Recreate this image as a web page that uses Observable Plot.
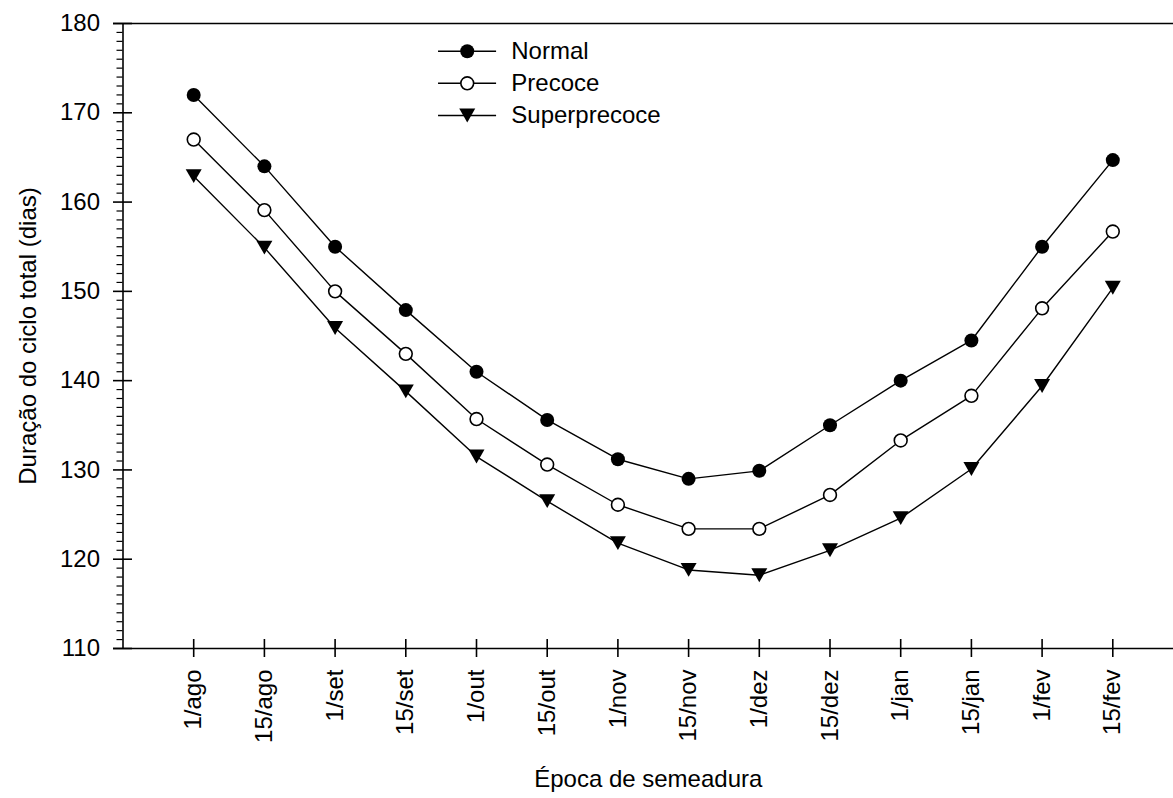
<!DOCTYPE html>
<html>
<head>
<meta charset="utf-8">
<script src="https://cdn.jsdelivr.net/npm/d3@7"></script>
<script src="https://cdn.jsdelivr.net/npm/@observablehq/plot@0.6"></script>
<style>
  html, body { margin: 0; padding: 0; background: white; overflow: hidden; }
  #chart svg { display: block; }
</style>
</head>
<body>
<div id="chart"></div>
<script>
// ---- Data ----
const categories = ["1/ago","15/ago","1/set","15/set","1/out","15/out","1/nov","15/nov","1/dez","15/dez","1/jan","15/jan","1/fev","15/fev"];
const seriesNames = ["Normal", "Precoce", "Superprecoce"];
const normal       = [172.0, 164.0, 155.0, 147.9, 141.0, 135.6, 131.2, 129.0, 129.9, 135.0, 140.0, 144.5, 155.0, 164.7];
const precoce      = [167.0, 159.1, 150.0, 143.0, 135.7, 130.6, 126.1, 123.4, 123.4, 127.2, 133.3, 138.3, 148.1, 156.7];
const superprecoce = [162.9, 154.9, 145.9, 138.8, 131.5, 126.5, 121.8, 118.8, 118.2, 121.0, 124.6, 130.1, 139.4, 150.4];
const yTicks = [110, 120, 130, 140, 150, 160, 170, 180];
const yTitle = "Duração do ciclo total (dias)";
const xTitle = "Época de semeadura";

// ---- Build table ----
const seriesValues = [normal, precoce, superprecoce];
const data = seriesNames.flatMap((s, k) => seriesValues[k].map((v, i) => ({series: s, x: i + 1, y: v})));
const xIdx = categories.map((c, i) => i + 1);
const yMinor = d3.range(110, 181, 1).filter(v => !yTicks.includes(v));

// legend rows (layout positions in data units)
const legendRows = seriesNames.map((name, k) => ({name, y: 176.9 - k * 3.6}));

const triDown = {
  draw(ctx, size) {
    const r = Math.sqrt(size / Math.PI);
    const h = r * Math.sqrt(3);
    ctx.moveTo(-r, -h / 2);
    ctx.lineTo(r, -h / 2);
    ctx.lineTo(0, h / 2);
    ctx.closePath();
  }
};

const W = 1173, H = 798;
const mL = 122.5, mT = 23, mB = 150;
const xMax = 15;
const pxX = (xMax) / (1183 - mL);      // data units per pixel (x)
const pxY = (180 - 110) / (H - mB - mT); // data units per pixel (y)

const lineW = 1.4;
const axisW = 1.6;
const font = "Liberation Sans, Arial, Helvetica, sans-serif";

const chart = Plot.plot({
  width: W,
  height: H,
  marginLeft: mL,
  marginTop: mT,
  marginBottom: mB,
  marginRight: 0,
  style: {fontFamily: font, fontSize: "24px", color: "black", background: "white", overflow: "hidden"},
  x: {domain: [0, xMax], range: [mL, 1183], axis: null},
  y: {domain: [110, 180], axis: null},
  marks: [
    // frame
    Plot.ruleY([180, 110], {x1: -9.5 * pxX, x2: xMax, stroke: "black", strokeWidth: axisW}),
    Plot.ruleX([0, xMax], {y1: 110, y2: 180, stroke: "black", strokeWidth: axisW}),
    // y ticks
    Plot.ruleY(yTicks, {x1: -9.5 * pxX, x2: 9.5 * pxX, stroke: "black", strokeWidth: axisW}),
    Plot.ruleY(yMinor, {x1: -6 * pxX, x2: 0, stroke: "black", strokeWidth: 1.2}),
    Plot.ruleY(yTicks, {x1: xMax - 9.5 * pxX, x2: xMax + 9.5 * pxX, stroke: "black", strokeWidth: axisW}),
    // x ticks
    Plot.ruleX(xIdx, {y1: 110 - 9 * pxY, y2: 110 + 9 * pxY, stroke: "black", strokeWidth: axisW}),
    // axes labels
    Plot.axisY({ticks: yTicks, tickSize: 0, tickPadding: 23, fontSize: 24, label: null, tickFormat: d => d}),
    Plot.axisX({ticks: xIdx, tickSize: 0, tickPadding: 21, tickRotate: -90, fontSize: 24, label: null, tickFormat: i => categories[i - 1]}),
    // titles
    Plot.text([yTitle], {frameAnchor: "left", dx: -95, rotate: -90, textAnchor: "middle", lineAnchor: "middle", fontSize: 24, text: d => d}),
    Plot.text([xTitle], {frameAnchor: "bottom", dy: 131, textAnchor: "middle", lineAnchor: "middle", fontSize: 24, text: d => d}),
    // series lines
    Plot.line(data, {x: "x", y: "y", z: "series", stroke: "black", strokeWidth: lineW}),
    // markers
    Plot.dot(data.filter(d => d.series === "Normal"), {x: "x", y: "y", r: 7, fill: "black", stroke: "none"}),
    Plot.dot(data.filter(d => d.series === "Precoce"), {x: "x", y: "y", r: 6.4, fill: "white", stroke: "black", strokeWidth: 1.6}),
    Plot.dot(data.filter(d => d.series === "Superprecoce"), {x: "x", y: "y", r: 8, symbol: triDown, fill: "black", stroke: "none"}),
    // legend
    Plot.ruleY(legendRows, {y: "y", x1: 4.463, x2: 5.284, stroke: "black", strokeWidth: lineW}),
    Plot.dot(legendRows.filter(d => d.name === "Normal"), {x: 4.869, y: "y", r: 7, fill: "black", stroke: "none"}),
    Plot.dot(legendRows.filter(d => d.name === "Precoce"), {x: 4.869, y: "y", r: 6.4, fill: "white", stroke: "black", strokeWidth: 1.6}),
    Plot.dot(legendRows.filter(d => d.name === "Superprecoce"), {x: 4.869, y: "y", r: 8, symbol: triDown, fill: "black", stroke: "none"}),
    Plot.text(legendRows, {x: 5.492, y: "y", text: "name", textAnchor: "start", fontSize: 24})
  ]
});
document.getElementById("chart").appendChild(chart);
</script>
</body>
</html>
